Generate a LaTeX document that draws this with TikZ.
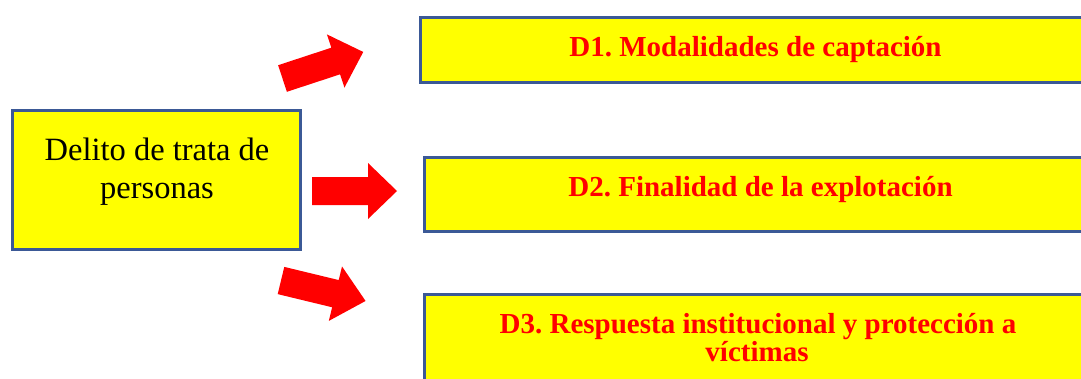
\documentclass[tikz,border=0pt]{standalone}
\usepackage{fontspec}
\setmainfont{Liberation Serif}
\frenchspacing
\definecolor{boxyellow}{RGB}{255,255,0}
\definecolor{boxborder}{RGB}{59,89,150}
\definecolor{arrowred}{RGB}{255,0,0}
\tikzset{
  ybox/.style={draw=boxborder, line width=3pt, fill=boxyellow, inner sep=0pt},
  dtext/.style={text=arrowred, font=\fontsize{29}{29}\selectfont\bfseries, inner sep=0pt, anchor=base},
  bigarrow/.pic={
    \fill[arrowred] (0,-14) -- (56,-14) -- (56,-28) -- (#1,0) -- (56,28) -- (56,14) -- (0,14) -- cycle;
  }
}
\begin{document}
\begin{tikzpicture}[x=1pt,y=-1pt]
\useasboundingbox (0,0) rectangle (1081,378);
\clip (0,0) rectangle (1081,378);
% left box
\node[ybox, minimum width=288pt, minimum height=139pt] (src) at (156,179.5) {};
\node[inner sep=0pt, anchor=base, font=\fontsize{32.5}{37}\selectfont] (s1) at (157,160.7) {Delito de trata de};
\node[inner sep=0pt, anchor=base, font=\fontsize{32.5}{37}\selectfont] (s2) at (157,198) {personas};
% right boxes
\node[ybox, minimum width=671pt, minimum height=65pt] (b1) at (755.5,49.5) {};
\node[ybox, minimum width=673pt, minimum height=74pt] (b2) at (760.5,194) {};
\node[ybox, minimum width=668pt, minimum height=110pt] (b3) at (758,349) {};
\node[dtext] (t1) at (755.5,56.7) {D1. Modalidades de captación};
\node[dtext] (t2) at (760.5,196.7) {D2. Finalidad de la explotación};
\node[dtext] (t3a) at (758,333) {D3. Respuesta institucional y protección a};
\node[dtext] (t3b) at (757,361.7) {víctimas};
% arrows
\pic[rotate=18.2] (ar1) at (282.5,78.5) {bigarrow=85};
\pic (ar2) at (312,191) {bigarrow=85};
\pic[rotate=-13.6] (ar3) at (281,280.5) {bigarrow=87};
\end{tikzpicture}
\end{document}
